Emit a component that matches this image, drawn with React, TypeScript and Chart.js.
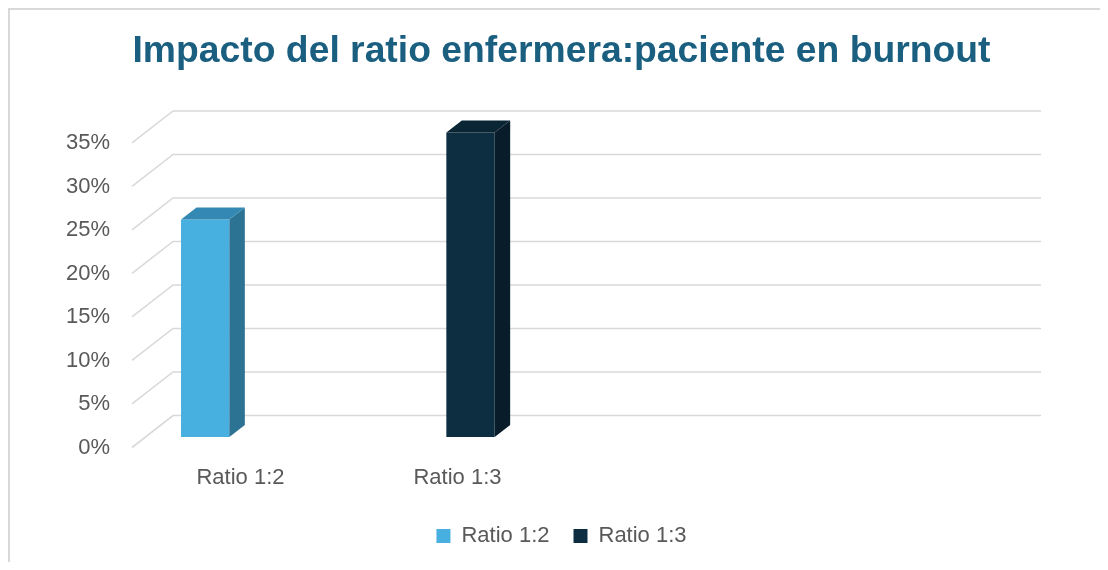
import React, { useEffect, useRef } from 'react';
import { Chart, registerables } from 'chart.js';

Chart.register(...registerables);

// ---- data ----
const categories = ['Ratio 1:2', 'Ratio 1:3', '', ''];
const seriesNames = ['Ratio 1:2', 'Ratio 1:3', ''];
const ratio12 = [25, null, null, null];
const ratio13 = [null, 35, null, null];
const emptySeries = [null, null, null, null];
const yTickStep = 5;
const yMax = 35;
const titleText = 'Impacto del ratio enfermera:paciente en burnout';

// ---- styles ----
const frontColors = ['#47b0e0', '#0c2e40', '#999999'];
const sideColors = ['#2c7393', '#081d29', '#777777'];
const topColors = ['#3389b3', '#0a2533', '#888888'];
const gridColor = '#d9d9d9';
const textColor = '#595959';
const WALL = { x: 41, y: -32 };
const BAR_SHIFT = { x: 13, y: -10.5 };
const BAR_DEPTH = { x: 15.5, y: -12 };

const threeD = {
  id: 'threeD',
  beforeDatasetsDraw(chart: any) {
    const { ctx, chartArea, scales } = chart;
    const y = scales.y;
    ctx.save();
    ctx.strokeStyle = gridColor;
    ctx.lineWidth = 1.6;
    y.ticks.forEach((t: any) => {
      const py = y.getPixelForValue(t.value);
      ctx.beginPath();
      ctx.moveTo(chartArea.left, py);
      ctx.lineTo(chartArea.left + WALL.x, py + WALL.y);
      ctx.lineTo(chartArea.right + WALL.x, py + WALL.y);
      ctx.stroke();
    });
    ctx.restore();
    ctx.save();
    ctx.translate(BAR_SHIFT.x, BAR_SHIFT.y);
  },
  afterDatasetsDraw(chart: any) {
    const ctx = chart.ctx;
    chart.data.datasets.forEach((ds: any, i: number) => {
      const meta = chart.getDatasetMeta(i);
      meta.data.forEach((el: any, j: number) => {
        const v = ds.data[j];
        if (v == null || v === 0) return;
        const { x, y, base, width } = el.getProps(['x', 'y', 'base', 'width'], true);
        const l = x - width / 2;
        const r = x + width / 2;
        // side face
        ctx.fillStyle = sideColors[i];
        ctx.beginPath();
        ctx.moveTo(r, y);
        ctx.lineTo(r + BAR_DEPTH.x, y + BAR_DEPTH.y);
        ctx.lineTo(r + BAR_DEPTH.x, base + BAR_DEPTH.y);
        ctx.lineTo(r, base);
        ctx.closePath();
        ctx.fill();
        // top face
        ctx.fillStyle = topColors[i];
        ctx.beginPath();
        ctx.moveTo(l, y);
        ctx.lineTo(l + BAR_DEPTH.x, y + BAR_DEPTH.y);
        ctx.lineTo(r + BAR_DEPTH.x, y + BAR_DEPTH.y);
        ctx.lineTo(r, y);
        ctx.closePath();
        ctx.fill();
      });
    });
    ctx.restore();
  },
};

export default function App() {
  const ref = useRef<HTMLCanvasElement | null>(null);
  useEffect(() => {
    if (!ref.current) return;
    const seriesData = [ratio12, ratio13, emptySeries];
    const chart = new Chart(ref.current, {
      type: 'bar',
      data: {
        labels: categories,
        datasets: seriesData.map((d, i) => ({
          label: seriesNames[i],
          data: d,
          backgroundColor: frontColors[i],
          borderWidth: 0,
          categoryPercentage: 0.668,
          barPercentage: 1,
          clip: false as any,
        })),
      },
      options: {
        animation: false,
        responsive: true,
        maintainAspectRatio: false,
        layout: { padding: { top: 0, bottom: 5, left: 5, right: 0 } },
        plugins: {
          title: {
            display: true,
            text: titleText,
            color: '#1a5e80',
            font: { family: 'Liberation Sans', size: 37.3, weight: 'bold' },
            padding: { top: 19, bottom: 69.2 },
          },
          legend: {
            position: 'bottom',
            labels: {
              filter: (item: any) => item.text !== '',
              boxWidth: 14,
              boxHeight: 14,
              color: textColor,
              font: { family: 'Liberation Sans', size: 22 },
              padding: 24,
            },
          },
          tooltip: { enabled: false },
        },
        scales: {
          x: {
            grid: { display: false, drawTicks: false },
            border: { display: false },
            ticks: {
              color: textColor,
              font: { family: 'Liberation Sans', size: 22 },
              padding: 17,
              maxRotation: 0,
            },
            afterFit: (s: any) => { s.height = 53.5; },
          },
          y: {
            min: 0,
            max: yMax,
            grid: { display: false, drawTicks: false },
            border: { display: false },
            ticks: {
              stepSize: yTickStep,
              color: textColor,
              font: { family: 'Liberation Sans', size: 22 },
              padding: 22,
              callback: (v: any) => v + '%',
            },
            afterFit: (s: any) => { s.width = 117; },
          },
          yR: {
            type: 'linear',
            position: 'right',
            display: true,
            grid: { display: false, drawTicks: false },
            border: { display: false },
            ticks: { display: false },
            afterFit: (s: any) => { s.width = 108; },
          },
        },
      },
      plugins: [threeD],
    } as any);
    return () => chart.destroy();
  }, []);
  return (
    <div
      style={{
        width: 1098,
        height: 552,
        borderTop: '2px solid #d9d9d9',
        borderLeft: '2px solid #d9d9d9',
        background: '#ffffff',
        position: 'relative',
      }}
    >
      <canvas ref={ref} />
    </div>
  );
}
